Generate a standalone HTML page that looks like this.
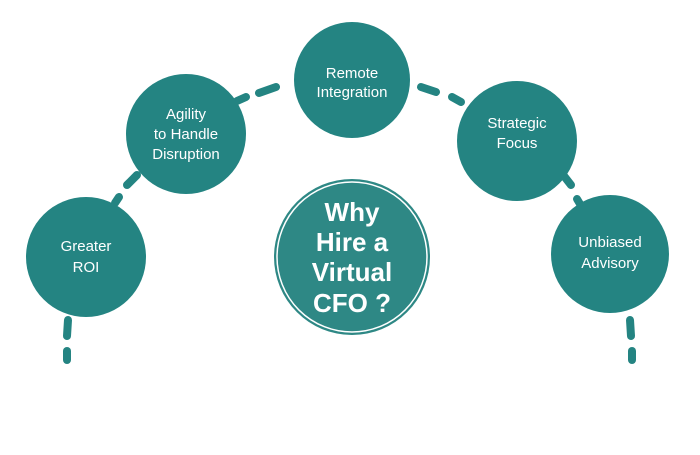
<!DOCTYPE html>
<html><head><style>
body{margin:0;background:#fff;width:700px;height:450px;overflow:hidden}
</style></head><body>
<svg width="700" height="450" viewBox="0 0 700 450" xmlns="http://www.w3.org/2000/svg" font-family="Liberation Sans, sans-serif">
<g stroke="#248482" stroke-width="8" stroke-linecap="round" fill="none">
<line x1="68" y1="320" x2="67" y2="336"/>
<line x1="67" y1="351" x2="67" y2="360"/>
<line x1="115" y1="203" x2="119" y2="197"/>
<line x1="127" y1="185" x2="137" y2="175"/>
<line x1="237" y1="101" x2="246" y2="97"/>
<line x1="259" y1="93" x2="276" y2="87"/>
<line x1="421" y1="87" x2="436" y2="92"/>
<line x1="452" y1="97" x2="461" y2="102"/>
<line x1="564" y1="176" x2="571" y2="185"/>
<line x1="577" y1="199" x2="580" y2="204"/>
<line x1="630" y1="320" x2="631" y2="336"/>
<line x1="632" y1="351" x2="632" y2="360"/>
</g>
<g fill="#248482">
<circle cx="86" cy="257" r="60"/>
<circle cx="186" cy="134" r="60"/>
<circle cx="352" cy="80" r="58"/>
<circle cx="517" cy="141" r="60"/>
<circle cx="610" cy="254" r="59"/>
</g>
<circle cx="352" cy="257" r="78" fill="#2e8885"/>
<circle cx="352" cy="257" r="75" fill="none" stroke="#fff" stroke-width="1.5"/>
<g fill="#fff" font-size="15" text-anchor="middle">
<text x="86" y="251">Greater</text><text x="86" y="272">ROI</text>
<text x="186" y="119">Agility</text><text x="186" y="139">to Handle</text><text x="186" y="159">Disruption</text>
<text x="352" y="78">Remote</text><text x="352" y="97">Integration</text>
<text x="517" y="128">Strategic</text><text x="517" y="148">Focus</text>
<text x="610" y="247">Unbiased</text><text x="610" y="268">Advisory</text>
</g>
<g fill="#fff" font-size="26" font-weight="bold" text-anchor="middle">
<text x="352" y="221">Why</text><text x="352" y="251">Hire a</text><text x="352" y="281">Virtual</text><text x="352" y="312">CFO ?</text>
</g>
</svg>
</body></html>
